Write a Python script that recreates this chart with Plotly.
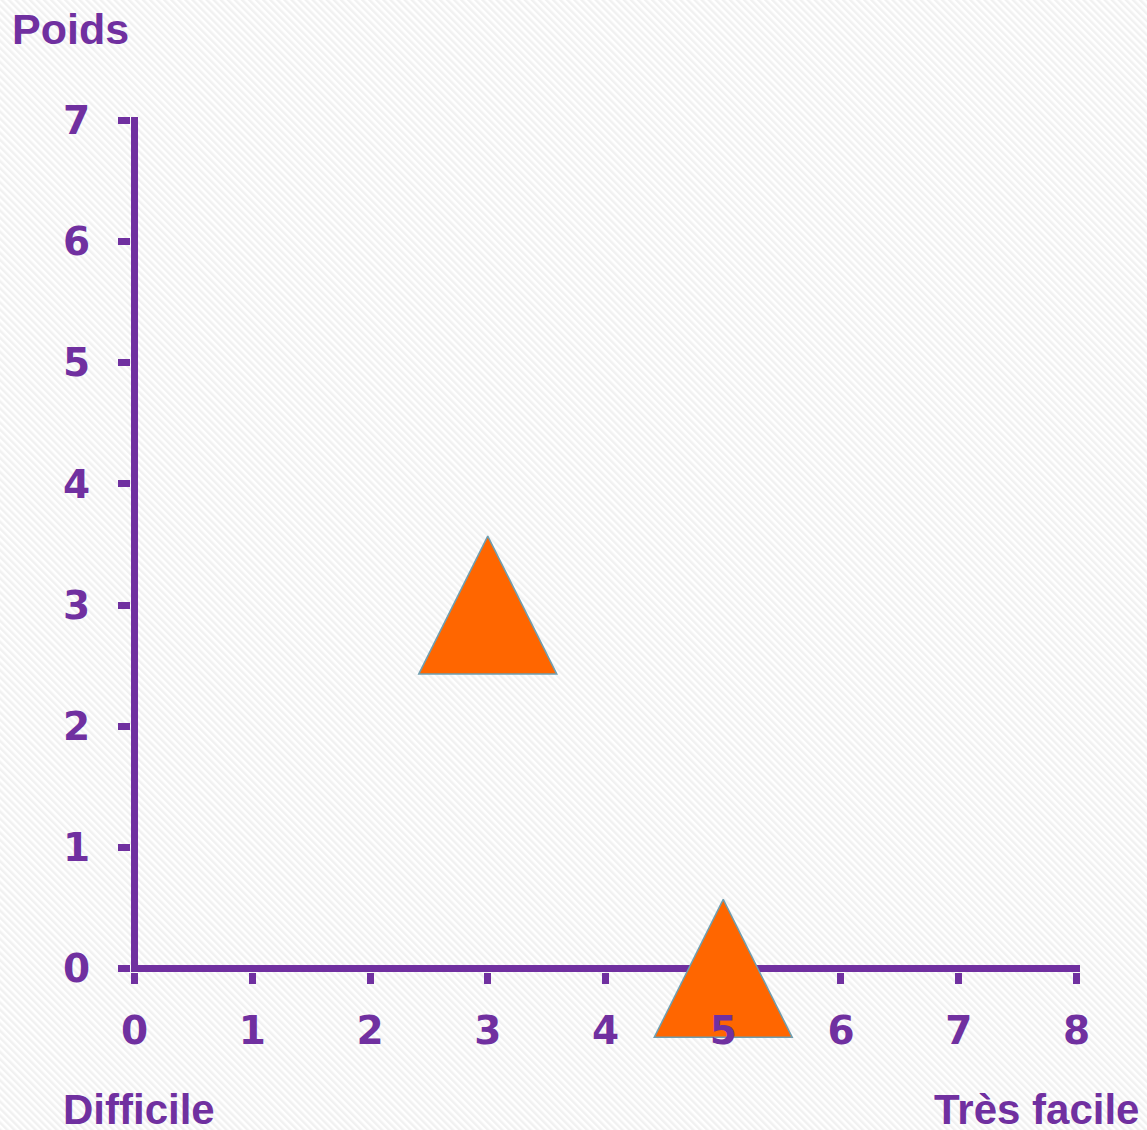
import base64
import plotly.graph_objects as go

# Ease rating (0 = Difficile ... 8 = Très facile) and weight of each item
ease = [3, 5]
weight = [3, 0]

x_ticks = [0, 1, 2, 3, 4, 5, 6, 7, 8]
y_ticks = [0, 1, 2, 3, 4, 5, 6, 7]

PURPLE = "#7030A0"
ORANGE = "#FF6600"
OUTLINE = "#6E9EB0"

W, H = 1147, 1130
M_L, M_R, M_T, M_B = 131, 67, 117, 158
PLOT_W = W - M_L - M_R
PLOT_H = H - M_T - M_B
PAD = 0.03  # small range padding so the zero lines sit inside the plot area

TICK_FONT = dict(family="DejaVu Sans", size=39, color=PURPLE, weight=700)
TITLE_FONT = dict(family="Liberation Sans", size=42, color=PURPLE, weight=700)


def paper_x(px):
    return (px - M_L) / PLOT_W


def paper_y(py):
    return (H - M_B - py) / PLOT_H


# faint diagonal stripe texture for the background
stripes = (
    f'<svg xmlns="http://www.w3.org/2000/svg" width="{W}" height="{H}">'
    '<defs><pattern id="s" width="5" height="5" patternUnits="userSpaceOnUse" '
    'patternTransform="rotate(-45)">'
    '<rect width="5" height="5" fill="#ffffff"/>'
    '<rect width="2.5" height="5" fill="#f1f1f1"/>'
    '</pattern></defs><rect width="100%" height="100%" fill="url(#s)"/></svg>'
)
stripes_uri = "data:image/svg+xml;base64," + base64.b64encode(stripes.encode()).decode()

fig = go.Figure()
fig.add_trace(
    go.Scatter(
        x=ease,
        y=weight,
        mode="markers",
        marker=dict(
            symbol="arrow-down",
            angle=180,
            standoff=69,
            size=138,
            color=ORANGE,
            line=dict(color=OUTLINE, width=1.5),
        ),
        cliponaxis=False,
        hoverinfo="skip",
        showlegend=False,
    )
)
# empty trace so the label-only overlay axis is drawn (labels above the markers)
fig.add_trace(
    go.Scatter(x=[], y=[], xaxis="x2", yaxis="y", mode="markers",
               hoverinfo="skip", showlegend=False)
)

x_range = [-PAD, x_ticks[-1] + PAD]
y_range = [-PAD, y_ticks[-1] + PAD]

fig.update_layout(
    width=W,
    height=H,
    margin=dict(l=M_L, r=M_R, t=M_T, b=M_B, pad=0),
    paper_bgcolor="#ffffff",
    plot_bgcolor="rgba(0,0,0,0)",
    showlegend=False,
    xaxis=dict(
        range=x_range,
        tickmode="array",
        tickvals=x_ticks,
        ticks="outside",
        ticklen=11,
        tickwidth=7,
        tickcolor=PURPLE,
        showticklabels=False,
        showline=False,
        showgrid=False,
        zeroline=True,
        zerolinecolor=PURPLE,
        zerolinewidth=7,
        layer="below traces",
        fixedrange=True,
    ),
    xaxis2=dict(
        overlaying="x",
        anchor="y",
        side="bottom",
        range=x_range,
        tickmode="array",
        tickvals=x_ticks,
        ticktext=[str(v) for v in x_ticks],
        ticks="",
        tickfont=TICK_FONT,
        ticklabelstandoff=32,
        showline=False,
        showgrid=False,
        zeroline=False,
        layer="above traces",
        fixedrange=True,
    ),
    yaxis=dict(
        range=y_range,
        tickmode="array",
        tickvals=y_ticks,
        ticks="outside",
        ticklen=12,
        tickwidth=7,
        tickcolor=PURPLE,
        tickfont=TICK_FONT,
        ticklabelstandoff=20,
        showline=False,
        showgrid=False,
        zeroline=True,
        zerolinecolor=PURPLE,
        zerolinewidth=7,
        fixedrange=True,
    ),
    images=[
        dict(
            source=stripes_uri,
            xref="paper",
            yref="paper",
            x=paper_x(0),
            y=paper_y(0),
            sizex=W / PLOT_W,
            sizey=H / PLOT_H,
            xanchor="left",
            yanchor="top",
            sizing="stretch",
            layer="below",
        )
    ],
    annotations=[
        dict(text="Poids", x=paper_x(10), y=paper_y(29), xref="paper", yref="paper",
             xanchor="left", yanchor="middle", showarrow=False,
             font=dict(TITLE_FONT, size=43)),
        dict(text="Difficile", x=paper_x(61), y=paper_y(1109), xref="paper", yref="paper",
             xanchor="left", yanchor="middle", showarrow=False, font=TITLE_FONT),
        dict(text="Très facile", x=paper_x(1141), y=paper_y(1109), xref="paper", yref="paper",
             xanchor="right", yanchor="middle", showarrow=False, font=TITLE_FONT),
    ],
)

fig.write_html("out.html")
